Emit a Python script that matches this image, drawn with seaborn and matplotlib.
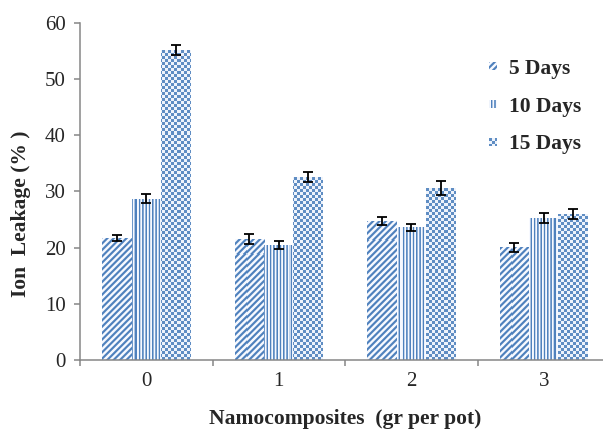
import numpy as np
import pandas as pd
import matplotlib
matplotlib.use("Agg")
import matplotlib.pyplot as plt
from matplotlib.patches import Patch
import seaborn as sns

# Ion leakage (%) by nanocomposite dose and sampling day
doses = ["0", "1", "2", "3"]
periods = ["5 Days", "10 Days", "15 Days"]
days5 = [21.7, 21.6, 24.8, 20.1]
days10 = [28.7, 20.4, 23.6, 25.2]
days15 = [55.2, 32.5, 30.6, 25.9]
err5 = [0.6, 0.9, 0.7, 0.8]
err10 = [0.8, 0.7, 0.6, 0.9]
err15 = [0.9, 0.9, 1.2, 0.9]

values = {"5 Days": days5, "10 Days": days10, "15 Days": days15}
errors = {"5 Days": err5, "10 Days": err10, "15 Days": err15}

df = pd.DataFrame(
    [(d, p, values[p][i]) for p in periods for i, d in enumerate(doses)],
    columns=["dose", "period", "leakage"],
)

sns.set_style("white")
plt.rcParams["font.family"] = ["Liberation Serif", "DejaVu Serif"]

BLUE = np.array([79, 129, 189]) / 255.0
LIGHT = np.array([0.97, 0.98, 1.0])
FIG_W, FIG_H = 603, 430
DPI = 100

fig = plt.figure(figsize=(FIG_W / DPI, FIG_H / DPI), dpi=DPI)
ax = fig.add_axes([80 / FIG_W, 70 / FIG_H, 530 / FIG_W, 337.3 / FIG_H])

sns.barplot(
    data=df, x="dose", y="leakage", hue="period", order=doses, hue_order=periods,
    palette=["white"] * 3, width=0.664, errorbar=None, legend=False,
    edgecolor="none", linewidth=0, ax=ax,
)

ax.set_xlim(-0.5, 3.5)
ax.set_ylim(0, 60)


def fill_pattern(kind, px, py):
    """Blend factor (1 = blue) for absolute figure pixel coords (py from top)."""
    if kind == "5 Days":
        t = 0.45 + 0.75 * np.cos(2 * np.pi * (px + py) / 6.4)
    elif kind == "10 Days":
        t = 0.4 + 0.7 * np.cos(2 * np.pi * px / 3.3)
    else:
        t = ((np.floor(px / 3) + np.floor(py / 3)) % 2).astype(float)
        t = 0.05 + 0.85 * t
    t = np.clip(t, 0, 1)[..., None]
    return LIGHT * (1 - t) + BLUE * t


def pattern_block(kind, ix0, iy0, ix1, iy1):
    w, h = ix1 - ix0, iy1 - iy0
    jj, ii = np.meshgrid(np.arange(w), np.arange(h))
    px = ix0 + jj + 0.5
    py = FIG_H - (iy1 - ii - 0.5)
    return fill_pattern(kind, px, py)


# Patterned fills clipped to each bar
for period, container in zip(periods, ax.containers):
    for bar in container:
        bb = bar.get_window_extent()
        ix0, iy0 = int(np.floor(bb.x0)), int(np.floor(bb.y0))
        ix1, iy1 = int(np.ceil(bb.x1)), int(np.ceil(bb.y1))
        img = pattern_block(period, ix0, iy0, ix1, iy1)
        (dx0, dy0), (dx1, dy1) = ax.transData.inverted().transform([(ix0, iy0), (ix1, iy1)])
        im = ax.imshow(img, extent=[dx0, dx1, dy0, dy1], origin="upper",
                       aspect="auto", interpolation="nearest", zorder=2)
        im.set_clip_path(bar)

# Error bars at bar centres
for period, container in zip(periods, ax.containers):
    xs = [b.get_x() + b.get_width() / 2 for b in container]
    ax.errorbar(xs, values[period], yerr=errors[period], fmt="none",
                ecolor="black", elinewidth=1.3, capsize=3.8, capthick=1.3, zorder=4)

ax.set_xlim(-0.5, 3.5)
ax.set_ylim(0, 60)

# Axes styling
for side in ["top", "right"]:
    ax.spines[side].set_visible(False)
for side in ["left", "bottom"]:
    ax.spines[side].set_color("#868686")
    ax.spines[side].set_linewidth(1.1)

ax.set_yticks(np.arange(0, 61, 10))
ax.tick_params(axis="y", direction="out", length=4.3, width=1.1, color="#868686",
               labelsize=15, pad=6, left=True)
ax.set_xticks([-0.5, 0.5, 1.5, 2.5, 3.5])
ax.set_xticklabels([])
ax.set_xticks(range(len(doses)), minor=True)
ax.set_xticklabels(doses, minor=True)
ax.tick_params(axis="x", which="major", direction="out", length=4.3, width=1.1,
               color="#868686", bottom=True)
ax.tick_params(axis="x", which="minor", length=0, labelsize=15, pad=9)

ax.set_xlabel("Namocomposites  (gr per pot)", fontsize=15.5, fontweight="bold")
ax.xaxis.set_label_coords(0.5, (360 - 419) / 337.3)
ax.xaxis.label.set_va("center")
ax.set_ylabel("Ion  Leakage (% )", fontsize=15.5, fontweight="bold")
ax.yaxis.set_label_coords((21 - 80) / 530, (360 - 214) / 337.3)
ax.yaxis.label.set_va("center")

handles = [Patch(facecolor="white", edgecolor="none", label=p) for p in periods]
leg = ax.legend(
    handles=handles, loc="upper left", bbox_to_anchor=(489 / FIG_W, 1 - 59 / FIG_H),
    bbox_transform=fig.transFigure, frameon=False, borderpad=0, borderaxespad=0,
    handlelength=0.5, handleheight=0.5, handletextpad=0.45, labelspacing=0.82,
    prop={"weight": "bold", "size": 15.5},
)

fig.canvas.draw()
renderer = fig.canvas.get_renderer()
for period, h in zip(periods, leg.legend_handles):
    bb = h.get_window_extent(renderer)
    ix0, iy0 = int(round(bb.x0)), int(round(bb.y0))
    ix1, iy1 = int(round(bb.x1)), int(round(bb.y1))
    cy = (iy0 + iy1) // 2
    img = pattern_block(period, ix0, cy - 4, ix0 + 8, cy + 4)
    fig.figimage(img, xo=ix0, yo=cy - 4, origin="upper", zorder=5)

fig.savefig("out.png", dpi=DPI, facecolor="white")
